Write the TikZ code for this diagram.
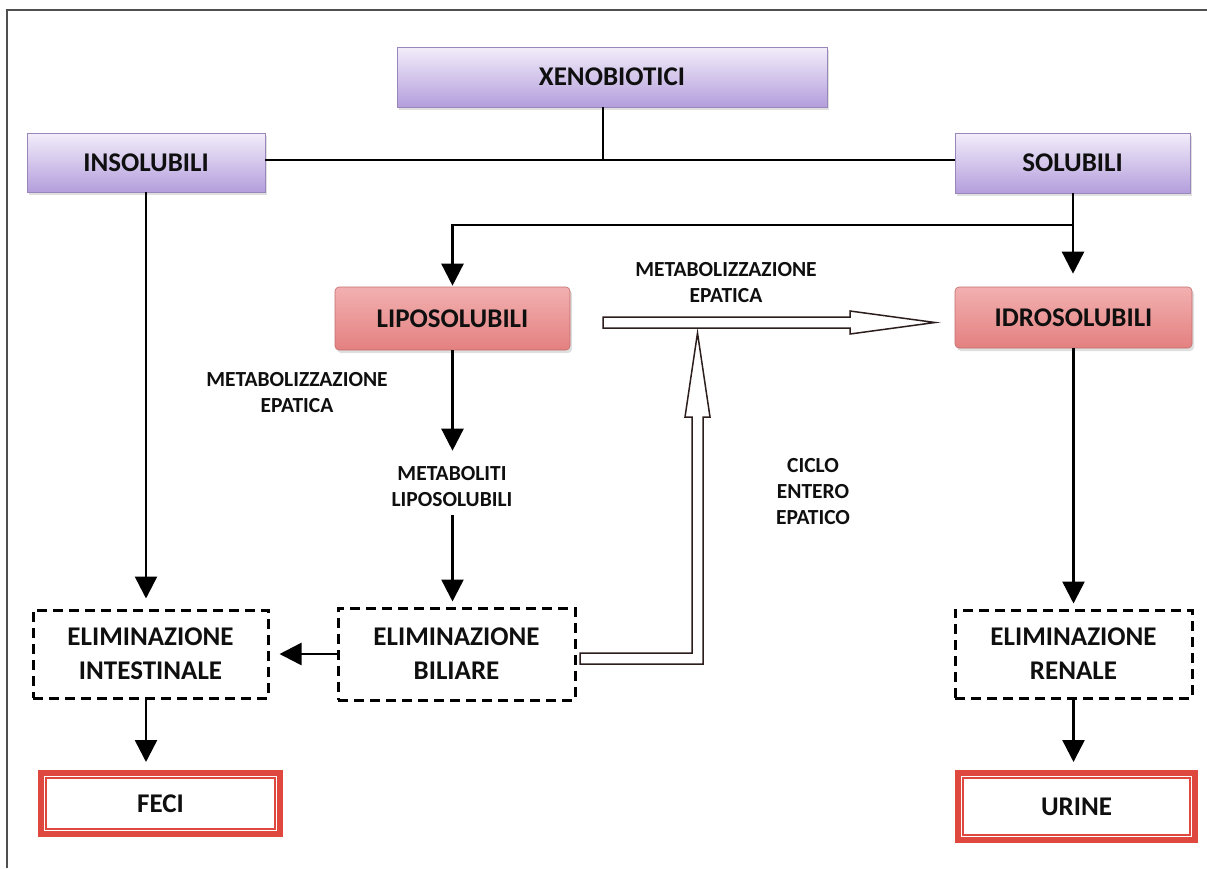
\documentclass[tikz,border=0pt]{standalone}
\usepackage{fontspec}
\setmainfont{Carlito}
\usetikzlibrary{arrows.meta,shadows}
\definecolor{txt}{RGB}{15,15,15}
\definecolor{purpT}{RGB}{242,237,250}
\definecolor{purpB}{RGB}{180,158,220}
\definecolor{pinkT}{RGB}{242,176,176}
\definecolor{pinkM}{RGB}{248,208,208}
\definecolor{pinkB}{RGB}{228,128,128}
\definecolor{redb}{RGB}{222,72,62}
\definecolor{frame}{RGB}{80,80,80}
\definecolor{outl}{RGB}{45,30,30}
\begin{document}
\begin{tikzpicture}[x=1pt,y=-1pt,
  lbl/.style={font=\fontsize{27}{34}\selectfont\bfseries, text=txt, align=center, inner sep=0pt},
  small/.style={font=\fontsize{21.5}{26}\selectfont\bfseries, text=txt, align=center, inner sep=0pt},
  pbox/.style={lbl, shade, top color=purpT, bottom color=purpB, draw=purpB!85!black, line width=0.6pt,
    drop shadow={shadow xshift=2pt, shadow yshift=-3pt, opacity=0.25}},
  rbox/.style={lbl, shade, top color=pinkT, middle color=pinkM, bottom color=pinkB, draw=pinkB!85!black,
    line width=0.6pt, rounded corners=4pt,
    drop shadow={shadow xshift=2pt, shadow yshift=-3pt, opacity=0.25}},
  dbox/.style={lbl, draw=black, line width=3pt, dash pattern=on 10pt off 6pt},
  ebox/.style={lbl, draw=redb, line width=6pt},
  conn/.style={line width=2.5pt, black},
  arr/.style={conn, -{Triangle[width=22pt,length=22pt]}},
  hollow/.style={draw=outl, line width=1.5pt, fill=white, line join=miter}
]
\path[fill=white] (0,0) rectangle (1207,868);
\useasboundingbox (0,0) rectangle (1207,868);
\draw[frame, line width=2pt] (7,868) -- (7,10) -- (1207,10);

% boxes
\node[pbox, minimum width=430pt, minimum height=60pt] (xeno) at (612,77) {XENOBIOTICI};
\node[pbox, minimum width=238pt, minimum height=59pt] (ins) at (146,162.5) {INSOLUBILI};
\node[pbox, minimum width=235pt, minimum height=60pt] (sol) at (1072.5,163) {SOLUBILI};
\node[rbox, minimum width=235pt, minimum height=63pt] (lipo) at (452.5,318.5) {LIPOSOLUBILI};
\node[rbox, minimum width=237pt, minimum height=61pt] (idro) at (1073.5,317.5) {IDROSOLUBILI};
\node[dbox, minimum width=235pt, minimum height=88pt] (int) at (150.5,654) {ELIMINAZIONE\\INTESTINALE};
\node[dbox, minimum width=237pt, minimum height=92pt] (bil) at (456.5,654) {ELIMINAZIONE\\BILIARE};
\node[dbox, minimum width=237pt, minimum height=88pt] (ren) at (1073.5,654) {ELIMINAZIONE\\RENALE};
\node[ebox, minimum width=239pt, minimum height=61pt] (feci) at (160.5,803.5) {FECI};
\node[ebox, minimum width=237pt, minimum height=67pt] (urine) at (1076.5,806.5) {URINE};
\draw[redb, line width=1.8pt] ([shift={(8,8)}]feci.north west) rectangle ([shift={(-8,-8)}]feci.south east);
\draw[redb, line width=1.8pt] ([shift={(8,8)}]urine.north west) rectangle ([shift={(-8,-8)}]urine.south east);

% labels
\node[small] (met1) at (726,283) {METABOLIZZAZIONE\\EPATICA};
\node[small] (met2) at (297,393) {METABOLIZZAZIONE\\EPATICA};
\node[small] (metab) at (452,487) {METABOLITI\\LIPOSOLUBILI};
\node[small] (ciclo) at (813,492) {CICLO\\ENTERO\\EPATICO};

% tree connectors
\coordinate (j) at (603,160);
\draw[conn] (xeno.south -| j) -- (j);
\draw[conn] (ins.east |- j) -- (sol.west |- j);
\coordinate (k) at (1073,225);
\draw[arr, shorten >=13pt] (sol.south -| k) -- (idro.north -| k);
\draw[arr, shorten >=1pt] (k) -- (k -| lipo.north) -- (lipo.north);
\draw[arr, shorten >=10pt] (ins.south) -- (ins.south |- int.north);
\draw[arr, shorten >=16pt] (lipo.south) -- (metab.north -| lipo.south);
\draw[arr, shorten <=8pt, shorten >=5pt] (metab.south -| lipo.south) -- (bil.north -| lipo.south);
\draw[arr, shorten >=10pt] (bil.west) -- (int.east);
\draw[arr, shorten >=8pt] (int.south -| ins.south) -- (feci.north -| ins.south);
\draw[arr, shorten >=5pt] (idro.south) -- (ren.north);
\draw[arr, shorten >=8pt] (ren.south) -- (ren.south |- urine.north);

% hollow arrows
\draw[hollow] (603,317) -- (850,317) -- (850,311) -- (935,322.5) -- (850,334) -- (850,328) -- (603,328) -- cycle;
\draw[hollow] (580,653) -- (692,653) -- (692,417) -- (685,417) -- (697.5,333) -- (710,417) -- (703,417) -- (703,664) -- (580,664) -- cycle;
\end{tikzpicture}
\end{document}
